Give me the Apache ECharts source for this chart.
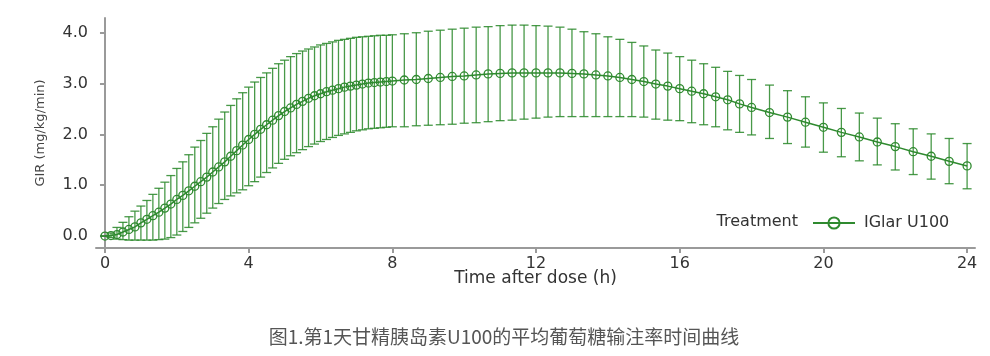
<!DOCTYPE html>
<html>
<head>
<meta charset="utf-8">
<script src="https://cdn.jsdelivr.net/npm/echarts@6/dist/echarts.min.js"></script>
<style>
html,body{margin:0;padding:0;background:#fff;}
#c{width:990px;height:356px;}
</style>
</head>
<body>
<div id="c"></div>
<script>
// Time points (minutes after dose)
const minutes = [0,10,20,30,40,50,60,70,80,90,100,110,120,130,140,150,160,170,180,190,200,210,220,230,240,250,260,270,280,290,300,310,320,330,340,350,360,370,380,390,400,410,420,430,440,450,460,470,480,
500,520,540,560,580,600,620,640,660,680,700,720,740,760,780,800,820,840,860,880,900,920,940,960,980,1000,1020,1040,1060,1080,
1110,1140,1170,1200,1230,1260,1290,1320,1350,1380,1410,1440];
// Mean GIR (mg/kg/min)
const meanGIR = [0.00,0.01,0.03,0.08,0.13,0.18,0.26,0.33,0.40,0.47,0.55,0.63,0.72,0.80,0.89,0.98,1.07,1.16,1.26,1.36,1.46,1.57,1.68,1.79,1.90,2.00,2.10,2.19,2.28,2.37,2.45,2.52,2.59,2.65,2.71,2.76,2.80,2.84,2.87,2.90,2.93,2.95,2.97,2.99,3.01,3.02,3.03,3.04,3.05,
3.07,3.08,3.10,3.12,3.14,3.15,3.17,3.19,3.20,3.21,3.21,3.21,3.21,3.21,3.20,3.19,3.17,3.15,3.12,3.08,3.04,2.99,2.95,2.90,2.85,2.80,2.74,2.68,2.60,2.53,
2.43,2.34,2.24,2.14,2.04,1.95,1.85,1.76,1.66,1.57,1.47,1.38];
// Upper end of error bar
const upperGIR = [0.00,0.06,0.17,0.27,0.38,0.49,0.59,0.70,0.82,0.94,1.06,1.19,1.33,1.46,1.60,1.75,1.88,2.02,2.15,2.30,2.44,2.57,2.70,2.82,2.93,3.03,3.12,3.21,3.30,3.39,3.46,3.53,3.59,3.64,3.68,3.72,3.76,3.79,3.82,3.85,3.87,3.89,3.91,3.92,3.93,3.94,3.95,3.95,3.96,
3.98,4.00,4.03,4.05,4.07,4.09,4.11,4.12,4.14,4.15,4.15,4.14,4.13,4.11,4.07,4.02,3.98,3.92,3.87,3.81,3.74,3.66,3.60,3.53,3.46,3.39,3.32,3.24,3.16,3.08,
2.97,2.86,2.74,2.62,2.51,2.42,2.32,2.21,2.11,2.01,1.92,1.82];
// Lower end of error bar
const lowerGIR = [0.00,-0.03,-0.06,-0.07,-0.08,-0.08,-0.08,-0.08,-0.08,-0.07,-0.06,-0.03,0.02,0.09,0.17,0.26,0.35,0.45,0.55,0.64,0.72,0.79,0.85,0.91,0.99,1.07,1.16,1.25,1.34,1.43,1.51,1.58,1.64,1.70,1.76,1.81,1.86,1.90,1.94,1.98,2.01,2.04,2.07,2.09,2.11,2.12,2.13,2.14,2.15,
2.15,2.17,2.18,2.19,2.20,2.22,2.23,2.25,2.27,2.28,2.30,2.32,2.34,2.35,2.35,2.35,2.35,2.35,2.35,2.35,2.34,2.30,2.28,2.27,2.23,2.19,2.15,2.09,2.04,1.99,
1.92,1.82,1.75,1.65,1.56,1.48,1.40,1.30,1.21,1.12,1.03,0.93];

const xTicks = [0,4,8,12,16,20,24];
const yTicks = [0,1,2,3,4];
const seriesName = 'IGlar U100';
const legendTitle = 'Treatment';
const xName = 'Time after dose (h)';
const yName = 'GIR (mg/kg/min)';
const caption = '图1.第1天甘精胰岛素U100的平均葡萄糖输注率时间曲线';

const hours = minutes.map(m => m / 60);
const lineData = hours.map((h, i) => [h, meanGIR[i]]);
const errData = hours.map((h, i) => [h, lowerGIR[i], upperGIR[i]]);

const GREEN = '#2f8a2f';
const BAR = 'rgba(40,135,40,0.85)';
const AX = '#9a9a9a';
const FONT = 'DejaVu Sans';

const chart = echarts.init(document.getElementById('c'), null, {renderer: 'canvas'});
chart.setOption({
  backgroundColor: '#fff',
  animation: false,
  grid: {left: 96, right: 15, top: 18, height: 230},
  xAxis: {
    type: 'value', min: -0.25, max: 24.22,
    splitLine: {show: false},
    axisLine: {onZero: false, lineStyle: {color: AX, width: 2}},
    axisTick: {customValues: xTicks, length: 5, lineStyle: {color: AX, width: 2}},
    axisLabel: {customValues: xTicks, margin: 8, color: '#333', fontSize: 16, fontFamily: FONT},
    name: xName, nameLocation: 'middle', nameGap: 22, nameMoveOverlap: false,
    nameTextStyle: {color: '#333', fontSize: 17, fontFamily: FONT}
  },
  yAxis: {
    type: 'value', min: -0.235, max: 4.29,
    splitLine: {show: false},
    axisLine: {show: true, lineStyle: {color: AX, width: 2}},
    axisTick: {show: true, customValues: yTicks, length: 5, lineStyle: {color: AX, width: 2}},
    axisLabel: {customValues: yTicks, margin: 8, color: '#333', fontSize: 16, fontFamily: FONT,
      formatter: v => v.toFixed(1)},
    name: yName, nameLocation: 'middle', nameGap: 49, nameMoveOverlap: false,
    nameTextStyle: {color: '#444', fontSize: 13, fontFamily: FONT}
  },
  legend: {
    data: [seriesName], left: 807, top: 210, itemWidth: 42, itemHeight: 14, itemGap: 0,
    textStyle: {color: '#333', fontSize: 16, fontFamily: FONT, padding: [0, 0, 0, 4]}
  },
  graphic: [
    {type: 'text', x: 798, y: 222, style: {text: legendTitle, textAlign: 'right', textVerticalAlign: 'middle',
      fill: '#333', font: '16px "DejaVu Sans"'}},
    {type: 'text', x: 504, y: 337, style: {text: caption, textAlign: 'center', textVerticalAlign: 'middle',
      fill: '#555', font: '19px "Noto Sans CJK SC"'}}
  ],
  series: [
    {
      type: 'custom', name: 'err', silent: true, z: 2,
      data: errData,
      encode: {x: 0, y: [1, 2]},
      renderItem: (params, api) => {
        const x = api.value(0);
        const lo = api.coord([x, api.value(1)]);
        const hi = api.coord([x, api.value(2)]);
        const w = 4.5;
        const st = {stroke: BAR, lineWidth: 1.3};
        return {type: 'group', children: [
          {type: 'line', shape: {x1: lo[0], y1: lo[1], x2: hi[0], y2: hi[1]}, style: st},
          {type: 'line', shape: {x1: hi[0] - w, y1: hi[1], x2: hi[0] + w, y2: hi[1]}, style: st},
          {type: 'line', shape: {x1: lo[0] - w, y1: lo[1], x2: lo[0] + w, y2: lo[1]}, style: st}
        ]};
      }
    },
    {
      type: 'line', name: seriesName, data: lineData, z: 3,
      symbol: 'circle', symbolSize: 8, showSymbol: true,
      lineStyle: {color: GREEN, width: 1.5},
      itemStyle: {color: 'rgba(255,255,255,0)', borderColor: GREEN, borderWidth: 1.3}
    }
  ]
});
</script>
</body>
</html>
